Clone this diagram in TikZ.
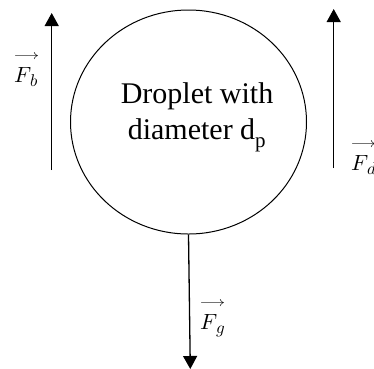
\documentclass[tikz,border=0pt]{standalone}
\usepackage{unicode-math}
\setmainfont{Liberation Serif}
\setmathfont{Latin Modern Math}
\newcommand{\forcevec}[2]{\shortstack[l]{\resizebox{25pt}{7pt}{$\longrightarrow$}\\[5pt]\fontsize{22}{22}\selectfont$F$\kern-1pt\raisebox{-4pt}{\fontsize{17}{17}\selectfont$#2$}}}
\usetikzlibrary{shapes.geometric,arrows.meta}
\begin{document}
\begin{tikzpicture}[x=1pt,y=-1pt,
  force/.style={line width=1.3pt,-{Triangle[length=13pt,width=14pt]}},
  flabel/.style={inner sep=0pt}]
\useasboundingbox (0,0) rectangle (374,368);
\clip (0,0) rectangle (374,368);
\node[ellipse,draw,line width=1pt,minimum width=236pt,minimum height=224pt,inner sep=0pt] (drop) at (188.5,122) {};
\node[align=center,font=\fontsize{30}{36.6}\selectfont,inner sep=0pt] (txt) at (197,117) {Droplet with\\diameter d\textsubscript{p}};
\coordinate (b0) at (51.7,170);
\coordinate (b1) at (51.7,13);
\coordinate (d0) at (333.7,168);
\coordinate (d1) at (333.7,9);
\coordinate (g1) at (190.3,369);
\draw[force] (b0) -- (b1);
\draw[force] (d0) -- (d1);
\draw[force] (drop.south) -- (g1);
\node[flabel,anchor=base west] (fb) at (14,82.5) {\forcevec{F}{b}};
\node[flabel,anchor=base west] (fd) at (351,170.8) {\forcevec{F}{d}};
\node[flabel,anchor=base west] (fg) at (200,329.3) {\forcevec{F}{g}};
\end{tikzpicture}
\end{document}
